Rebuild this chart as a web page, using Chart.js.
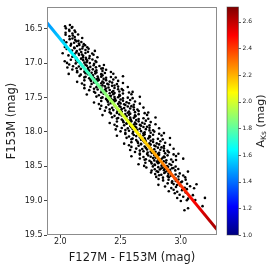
<!DOCTYPE html>
<html><head><meta charset="utf-8">
<script src="https://cdn.jsdelivr.net/npm/chart.js@4/dist/chart.umd.min.js"></script>
<style>html,body{margin:0;padding:0;background:#fff;}canvas{display:block;}</style>
</head><body>
<canvas id="c" width="270" height="270"></canvas>
<script>
// ---- data ----
const xTicks = [2.0, 2.5, 3.0];
const yTicks = [16.5, 17.0, 17.5, 18.0, 18.5, 19.0, 19.5];
const cbarTicks = [1.0, 1.2, 1.4, 1.6, 1.8, 2.0, 2.2, 2.4, 2.6];
const cbarRange = [1.0, 2.71];
const trackColour = [1.89, 3.30];
const trackMag = [16.41, 19.42];
const trackAks = [1.46, 2.66];
const stars = [
[2.04,16.462],[2.08,16.442],[2.10,16.471],
[2.047,16.491],[2.074,16.513],[2.095,16.481],[2.119,16.522],
[2.044,16.554],[2.076,16.529],[2.101,16.565],[2.125,16.543],
[2.044,16.585],[2.076,16.605],[2.104,16.596],[2.12,16.618],[2.148,16.58],
[2.029,16.67],[2.078,16.648],[2.101,16.638],[2.124,16.659],[2.151,16.673],[2.182,16.632],
[2.05,16.694],[2.09,16.717],[2.115,16.701],[2.135,16.68],[2.155,16.712],[2.175,16.69],[2.195,16.721],
[2.038,16.762],[2.086,16.742],[2.116,16.771],[2.14,16.747],[2.158,16.732],[2.188,16.756],[2.206,16.736],[2.224,16.767],
[2.053,16.791],[2.098,16.813],[2.118,16.781],[2.137,16.822],[2.163,16.798],[2.183,16.784],[2.209,16.807],[2.235,16.788],[2.287,16.819],
[2.02,16.854],[2.09,16.829],[2.118,16.865],[2.132,16.843],[2.153,16.86],[2.174,16.837],[2.181,16.873],[2.209,16.849],[2.23,16.833],[2.265,16.858],
[2.068,16.885],[2.10,16.905],[2.108,16.896],[2.132,16.918],[2.156,16.88],[2.188,16.914],[2.19,16.891],[2.212,16.92],[2.244,16.894],[2.276,16.875],[2.308,16.911],
[2.037,16.97],[2.088,16.948],[2.13,16.938],[2.132,16.959],[2.156,16.973],[2.173,16.932],[2.19,16.954],[2.216,16.942],[2.224,16.964],[2.241,16.927],[2.267,16.945],[2.292,16.966],
[2.056,16.994],[2.074,17.017],[2.128,17.001],[2.146,16.98],[2.173,17.012],[2.20,16.99],[2.209,17.021],[2.218,16.984],[2.245,16.997],[2.281,17.008],[2.299,16.981],[2.362,17.024],
[2.059,17.062],[2.106,17.042],[2.135,17.071],[2.154,17.047],[2.182,17.032],[2.192,17.056],[2.22,17.036],[2.23,17.067],[2.249,17.052],[2.277,17.028],[2.296,17.059],[2.325,17.039],[2.353,17.074],
[2.10,17.091],[2.14,17.113],[2.17,17.081],[2.20,17.122],[2.205,17.098],[2.23,17.084],[2.24,17.107],[2.27,17.088],[2.29,17.119],[2.30,17.103],[2.34,17.077],[2.35,17.111],[2.38,17.094],
[2.07,17.154],[2.14,17.129],[2.17,17.165],[2.21,17.143],[2.23,17.16],[2.26,17.137],[2.27,17.173],[2.29,17.149],[2.30,17.133],[2.34,17.158],[2.345,17.168],[2.37,17.14],[2.42,17.126],[2.44,17.151],
[2.16,17.185],[2.20,17.205],[2.21,17.196],[2.24,17.218],[2.27,17.18],[2.28,17.214],[2.31,17.191],[2.315,17.22],[2.34,17.194],[2.35,17.175],[2.38,17.211],[2.42,17.20],[2.46,17.207],[2.52,17.188],
[2.14,17.27],[2.20,17.248],[2.25,17.238],[2.255,17.259],[2.28,17.273],[2.30,17.232],[2.31,17.254],[2.32,17.242],[2.35,17.264],[2.36,17.227],[2.38,17.245],[2.41,17.266],[2.44,17.235],[2.48,17.256],
[2.18,17.294],[2.20,17.317],[2.26,17.301],[2.28,17.28],[2.31,17.312],[2.34,17.29],[2.35,17.321],[2.36,17.284],[2.39,17.297],[2.40,17.308],[2.43,17.281],[2.45,17.324],[2.47,17.303],[2.52,17.287],
[2.20,17.362],[2.25,17.342],[2.28,17.371],[2.30,17.347],[2.33,17.332],[2.34,17.356],[2.37,17.336],[2.38,17.367],[2.40,17.352],[2.43,17.328],[2.45,17.359],[2.48,17.339],[2.51,17.374],[2.56,17.345],
[2.24,17.391],[2.28,17.413],[2.31,17.381],[2.34,17.422],[2.345,17.398],[2.37,17.384],[2.38,17.407],[2.41,17.388],[2.43,17.419],[2.44,17.403],[2.48,17.377],[2.49,17.411],[2.52,17.394],[2.60,17.416],
[2.22,17.454],[2.29,17.429],[2.32,17.465],[2.36,17.443],[2.38,17.46],[2.41,17.437],[2.42,17.473],[2.44,17.449],[2.45,17.433],[2.49,17.458],[2.495,17.468],[2.52,17.44],[2.57,17.426],[2.59,17.451],
[2.30,17.485],[2.34,17.505],[2.35,17.496],[2.38,17.518],[2.41,17.48],[2.42,17.514],[2.45,17.491],[2.455,17.52],[2.48,17.494],[2.49,17.475],[2.52,17.511],[2.56,17.50],[2.60,17.507],[2.66,17.488],
[2.28,17.57],[2.34,17.548],[2.39,17.538],[2.395,17.559],[2.42,17.573],[2.44,17.532],[2.45,17.554],[2.46,17.542],[2.49,17.564],[2.50,17.527],[2.52,17.545],[2.55,17.566],[2.58,17.535],[2.62,17.556],
[2.32,17.594],[2.34,17.617],[2.40,17.601],[2.42,17.58],[2.45,17.612],[2.48,17.59],[2.49,17.621],[2.50,17.584],[2.53,17.597],[2.54,17.608],[2.57,17.581],[2.59,17.624],[2.61,17.603],[2.66,17.587],
[2.33,17.662],[2.38,17.642],[2.41,17.671],[2.43,17.647],[2.46,17.632],[2.47,17.656],[2.50,17.636],[2.51,17.667],[2.53,17.652],[2.56,17.628],[2.58,17.659],[2.61,17.639],[2.64,17.674],[2.69,17.645],
[2.37,17.691],[2.41,17.713],[2.44,17.681],[2.47,17.722],[2.475,17.698],[2.50,17.684],[2.51,17.707],[2.54,17.688],[2.56,17.719],[2.57,17.703],[2.61,17.677],[2.62,17.711],[2.65,17.694],[2.73,17.716],
[2.35,17.754],[2.42,17.729],[2.45,17.765],[2.49,17.743],[2.51,17.76],[2.54,17.737],[2.55,17.773],[2.57,17.749],[2.58,17.733],[2.62,17.758],[2.625,17.768],[2.65,17.74],[2.70,17.726],[2.72,17.751],
[2.43,17.785],[2.47,17.805],[2.48,17.796],[2.51,17.818],[2.54,17.78],[2.55,17.814],[2.58,17.791],[2.585,17.82],[2.61,17.794],[2.62,17.775],[2.65,17.811],[2.69,17.80],[2.73,17.807],[2.79,17.788],
[2.41,17.87],[2.47,17.848],[2.52,17.838],[2.525,17.859],[2.55,17.873],[2.57,17.832],[2.58,17.854],[2.59,17.842],[2.62,17.864],[2.63,17.827],[2.65,17.845],[2.68,17.866],[2.71,17.835],[2.75,17.856],
[2.45,17.894],[2.47,17.917],[2.53,17.901],[2.55,17.88],[2.58,17.912],[2.61,17.89],[2.62,17.921],[2.63,17.884],[2.66,17.897],[2.67,17.908],[2.70,17.881],[2.72,17.924],[2.74,17.903],[2.79,17.887],
[2.46,17.962],[2.51,17.942],[2.54,17.971],[2.56,17.947],[2.59,17.932],[2.60,17.956],[2.63,17.936],[2.64,17.967],[2.66,17.952],[2.69,17.928],[2.71,17.959],[2.74,17.939],[2.77,17.974],[2.82,17.945],
[2.50,17.991],[2.54,18.013],[2.57,17.981],[2.60,18.022],[2.605,17.998],[2.63,17.984],[2.64,18.007],[2.67,17.988],[2.69,18.019],[2.70,18.003],[2.74,17.977],[2.75,18.011],[2.78,17.994],[2.86,18.016],
[2.47,18.054],[2.54,18.029],[2.57,18.065],[2.61,18.043],[2.63,18.06],[2.66,18.037],[2.67,18.073],[2.69,18.049],[2.70,18.033],[2.74,18.058],[2.745,18.068],[2.77,18.04],[2.82,18.026],[2.84,18.051],
[2.55,18.085],[2.59,18.105],[2.60,18.096],[2.63,18.118],[2.66,18.08],[2.67,18.114],[2.70,18.091],[2.705,18.12],[2.73,18.094],[2.74,18.075],[2.77,18.111],[2.81,18.10],[2.85,18.107],[2.91,18.088],
[2.53,18.17],[2.59,18.148],[2.64,18.138],[2.645,18.159],[2.67,18.173],[2.69,18.132],[2.70,18.154],[2.71,18.142],[2.74,18.164],[2.75,18.127],[2.77,18.145],[2.80,18.166],[2.83,18.135],[2.87,18.156],
[2.57,18.194],[2.59,18.217],[2.65,18.201],[2.67,18.18],[2.70,18.212],[2.73,18.19],[2.74,18.221],[2.75,18.184],[2.78,18.197],[2.79,18.208],[2.82,18.181],[2.84,18.224],[2.86,18.203],[2.91,18.187],
[2.58,18.262],[2.63,18.242],[2.66,18.271],[2.68,18.247],[2.71,18.232],[2.72,18.256],[2.75,18.236],[2.76,18.267],[2.78,18.252],[2.81,18.228],[2.83,18.259],[2.86,18.239],[2.89,18.274],[2.94,18.245],
[2.62,18.291],[2.66,18.313],[2.69,18.281],[2.72,18.322],[2.725,18.298],[2.75,18.284],[2.76,18.307],[2.79,18.288],[2.81,18.319],[2.82,18.303],[2.86,18.277],[2.87,18.311],[2.90,18.294],[2.98,18.316],
[2.59,18.354],[2.66,18.329],[2.69,18.365],[2.73,18.343],[2.75,18.36],[2.78,18.337],[2.79,18.373],[2.81,18.349],[2.82,18.333],[2.86,18.358],[2.865,18.368],[2.89,18.34],[2.94,18.326],[2.96,18.351],
[2.66,18.385],[2.70,18.405],[2.71,18.396],[2.74,18.418],[2.77,18.38],[2.78,18.414],[2.81,18.391],[2.815,18.42],[2.84,18.394],[2.85,18.375],[2.88,18.411],[2.92,18.40],[2.96,18.407],[3.02,18.388],
[2.649,18.47],[2.706,18.448],[2.754,18.438],[2.758,18.459],[2.782,18.473],[2.801,18.432],[2.811,18.454],[2.82,18.442],[2.849,18.464],[2.858,18.427],[2.877,18.445],[2.906,18.466],[2.934,18.435],
[2.696,18.494],[2.714,18.517],[2.768,18.501],[2.786,18.48],[2.813,18.512],[2.84,18.49],[2.849,18.521],[2.858,18.484],[2.885,18.497],[2.894,18.508],[2.921,18.481],[2.939,18.524],[2.957,18.503],
[2.758,18.562],[2.784,18.542],[2.80,18.571],[2.826,18.547],[2.835,18.532],[2.86,18.556],[2.869,18.536],[2.886,18.567],[2.911,18.552],[2.928,18.528],[2.954,18.559],[2.979,18.539],
[2.753,18.591],[2.787,18.613],[2.812,18.581],[2.838,18.622],[2.863,18.598],[2.872,18.584],[2.897,18.607],[2.914,18.588],[2.957,18.619],[2.991,18.603],[3.059,18.577],
[2.796,18.654],[2.82,18.629],[2.852,18.665],[2.892,18.643],[2.90,18.66],[2.916,18.637],[2.956,18.673],[2.98,18.649],[3.02,18.633],[3.036,18.658],
[2.815,18.685],[2.853,18.705],[2.898,18.696],[2.928,18.718],[2.95,18.68],[2.958,18.714],[2.98,18.691],[3.01,18.72],[3.04,18.694],
[2.814,18.77],[2.891,18.748],[2.926,18.738],[2.94,18.759],[2.968,18.773],[3.003,18.732],[3.052,18.754],
[2.869,18.794],[2.921,18.817],[2.96,18.801],[2.993,18.78],[3.032,18.812],[3.077,18.79],
[2.90,18.862],[2.94,18.842],[2.97,18.871],[3.01,18.847],[3.05,18.832],
[2.95,18.891],[2.99,18.913],[3.04,18.881],
[2.97,18.962],[3.02,18.942],[3.06,18.971],
[3.00,19.004],[3.05,18.995],
[3.12,18.99],[3.18,19.08],[3.03,19.14],[3.06,19.11],[3.20,18.96],[3.13,18.76],[3.11,18.82],[3.10,18.92]
];

// ---- helpers ----
function clamp01(v){return Math.max(0, Math.min(1, v));}
function jet(t){
  t = clamp01(t);
  const r = clamp01(1.5 - Math.abs(4*t - 3));
  const g = clamp01(1.5 - Math.abs(4*t - 2));
  const b = clamp01(1.5 - Math.abs(4*t - 1));
  return 'rgb(' + Math.round(r*255) + ',' + Math.round(g*255) + ',' + Math.round(b*255) + ')';
}
const FONT = "'DejaVu Sans', sans-serif";
const TXT = '#1a1a1a';

function trackGradient(ctx){
  const chart = ctx.chart;
  const xs = chart.scales.x, ys = chart.scales.y;
  if (!xs || !ys || !chart.chartArea) return jet(0.5);
  const x0 = xs.getPixelForValue(trackColour[0]), y0 = ys.getPixelForValue(trackMag[0]);
  const x1 = xs.getPixelForValue(trackColour[trackColour.length-1]), y1 = ys.getPixelForValue(trackMag[trackMag.length-1]);
  const g = chart.ctx.createLinearGradient(x0, y0, x1, y1);
  const a0 = trackAks[0], a1 = trackAks[trackAks.length-1];
  for (let i = 0; i <= 40; i++){
    const s = i/40;
    const a = a0 + s*(a1 - a0);
    g.addColorStop(s, jet((a - cbarRange[0])/(cbarRange[1]-cbarRange[0])));
  }
  return g;
}

const framePlugin = {
  id: 'frame',
  afterDatasetsDraw(chart){
    const {ctx, chartArea: a} = chart;
    ctx.save();
    ctx.strokeStyle = '#8c8c8c';
    ctx.lineWidth = 1;
    ctx.strokeRect(Math.round(a.left)+0.5, Math.round(a.top)+0.5, Math.round(a.right-a.left)-1, Math.round(a.bottom-a.top)-1);
    ctx.restore();
  }
};

const colorbarPlugin = {
  id: 'colorbar',
  afterDraw(chart){
    const s = chart.scales.cbar;
    const a = chart.chartArea;
    const ctx = chart.ctx;
    const x0 = a.right + 10, w = 11.5;
    const yTop = s.getPixelForValue(s.max), yBot = s.getPixelForValue(s.min);
    ctx.save();
    const g = ctx.createLinearGradient(0, yBot, 0, yTop);
    for (let i = 0; i <= 64; i++){ g.addColorStop(i/64, jet(i/64)); }
    ctx.fillStyle = g;
    ctx.fillRect(x0, yTop, w, yBot - yTop);
    ctx.strokeStyle = 'rgba(60,60,60,0.6)';
    ctx.lineWidth = 0.8;
    ctx.strokeRect(x0, yTop, w, yBot - yTop);
    ctx.strokeStyle = '#444';
    ctx.lineWidth = 0.8;
    for (const v of cbarTicks){
      const y = Math.round(s.getPixelForValue(v)) + 0.5;
      ctx.beginPath(); ctx.moveTo(x0 + w, y); ctx.lineTo(x0 + w + 2.5, y); ctx.stroke();
    }
    const big = "11px " + FONT, small = "7.5px " + FONT;
    ctx.font = big; const wA = ctx.measureText('A').width; const wRest = ctx.measureText(' (mag)').width;
    ctx.font = small; const wKs = ctx.measureText('Ks').width;
    const total = wA + wKs + wRest;
    ctx.translate(261, (a.top + a.bottom)/2);
    ctx.rotate(-Math.PI/2);
    ctx.fillStyle = TXT;
    ctx.textBaseline = 'middle';
    ctx.textAlign = 'left';
    let px = -total/2;
    ctx.font = big; ctx.fillText('A', px, 0); px += wA;
    ctx.font = small; ctx.fillText('Ks', px, 3); px += wKs;
    ctx.font = big; ctx.fillText(' (mag)', px, 0);
    ctx.restore();
  }
};

new Chart(document.getElementById('c'), {
  type: 'scatter',
  data: {
    datasets: [
      {
        label: 'track',
        data: trackColour.map((x, i) => ({x: x, y: trackMag[i]})),
        showLine: true,
        borderColor: trackGradient,
        borderWidth: 3,
        pointRadius: 0,
        tension: 0,
        borderCapStyle: 'butt',
        clip: 0,
        order: 0
      },
      {
        label: 'stars',
        data: stars.map(p => ({x: p[0], y: p[1]})),
        backgroundColor: '#000',
        borderWidth: 0,
        pointRadius: 1.3,
        pointHoverRadius: 1.3,
        order: 1
      }
    ]
  },
  options: {
    responsive: false,
    animation: false,
    events: [],
    layout: {padding: {top: 7, left: 0, right: 0, bottom: 0}},
    plugins: {legend: {display: false}, tooltip: {enabled: false}},
    scales: {
      x: {
        type: 'linear', position: 'bottom', min: 1.89, max: 3.30,
        afterBuildTicks: s => { s.ticks = xTicks.map(v => ({value: v})); },
        afterFit: s => { s.height = 35; },
        grid: {drawOnChartArea: false, drawTicks: true, tickLength: 3, tickColor: '#444', tickWidth: 1},
        border: {display: false},
        ticks: {autoSkip: false, maxRotation: 0, padding: 0, color: TXT,
          font: {family: FONT, size: 8, lineHeight: 1}, callback: v => Number(v).toFixed(1)},
        title: {display: true, text: 'F127M - F153M (mag)', color: TXT,
          font: {family: FONT, size: 11.5}, padding: {top: 0, bottom: 5.2}}
      },
      y: {
        type: 'linear', position: 'left', reverse: true, min: 16.18, max: 19.5,
        afterBuildTicks: s => { s.ticks = yTicks.map(v => ({value: v})); },
        afterFit: s => { s.width = 47; },
        grid: {drawOnChartArea: false, drawTicks: true, tickLength: 3, tickColor: '#444', tickWidth: 1},
        border: {display: false},
        ticks: {autoSkip: false, padding: 1.5, color: TXT,
          font: {family: FONT, size: 8}, callback: v => Number(v).toFixed(1)},
        title: {display: true, text: 'F153M (mag)', color: TXT,
          font: {family: FONT, size: 11.5}, padding: {top: 5.6, bottom: 0}}
      },
      cbar: {
        type: 'linear', position: 'right', min: cbarRange[0], max: cbarRange[1],
        afterBuildTicks: s => { s.ticks = cbarTicks.map(v => ({value: v})); },
        afterFit: s => { s.width = 53; },
        grid: {drawOnChartArea: false, drawTicks: true, tickLength: 24, tickColor: 'rgba(0,0,0,0)'},
        border: {display: false},
        ticks: {autoSkip: false, padding: 1.5, color: TXT,
          font: {family: FONT, size: 6}, callback: v => Number(v).toFixed(1)},
        title: {display: false}
      }
    }
  },
  plugins: [framePlugin, colorbarPlugin]
});
</script>
</body></html>
